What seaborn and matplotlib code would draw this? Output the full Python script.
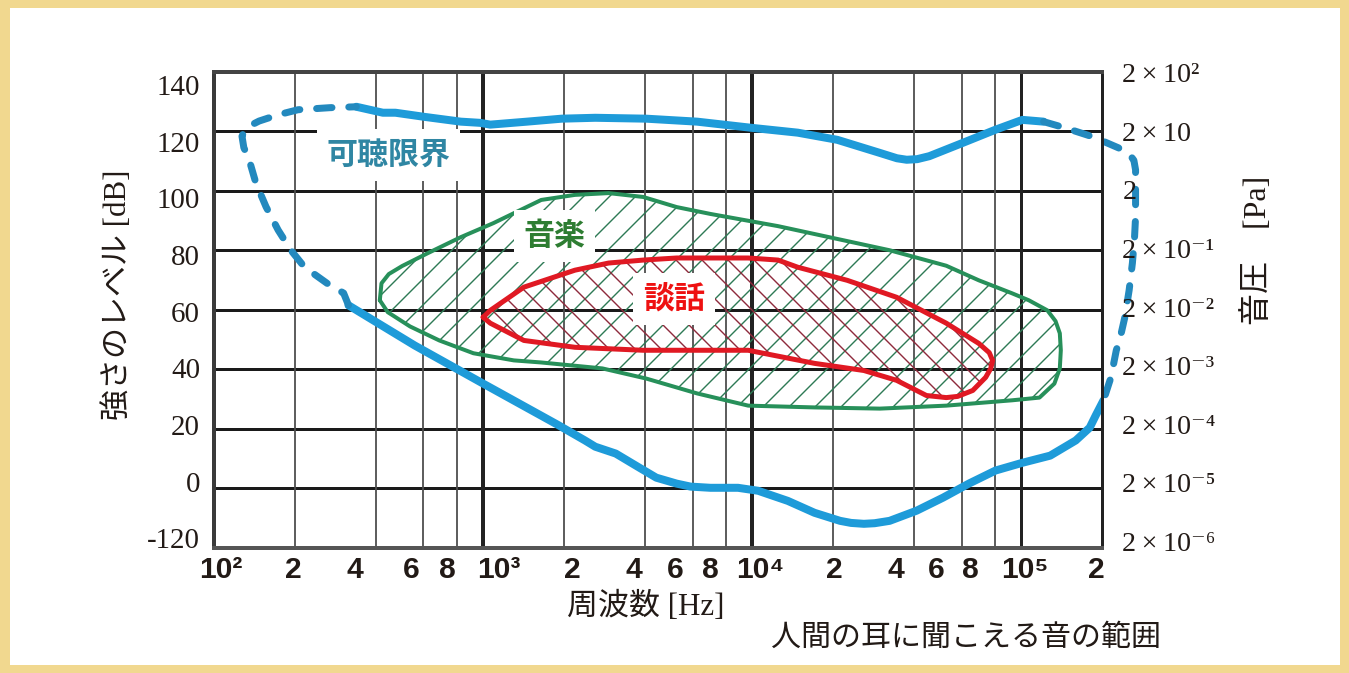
import matplotlib
matplotlib.use('Agg')
import numpy as np
import pandas as pd
import matplotlib.pyplot as plt
import seaborn as sns

# output is 1349x673; dpi 78 keeps matplotlib's hatch spacing close to the original (~13px)
DPI = 78
W, H = 1349, 673


def pt(px):
    # pixel size -> points at this dpi
    return px * 72 / DPI


# ---- tick labels -------------------------------------------------------
x_tick_labels = ['10²', '2', '4', '6', '8', '10³', '2', '4', '6', '8',
                 '10⁴', '2', '4', '6', '8', '10⁵', '2']
x_tick_pos = [106, 197, 334, 540, 735, 1147, 2142, 3642, 5176, 6980,
              10710, 20180, 34300, 48300, 64600, 102600, 190100]
y_left_labels = ['140', '120', '100', '80', '60', '40', '20', '0', '-120']
y_right_labels = ['2\u2009×\u200910²', '2\u2009×\u200910', '2', '2\u2009×\u200910⁻¹',
                  '2\u2009×\u200910⁻²', '2\u2009×\u200910⁻³', '2\u2009×\u200910⁻⁴',
                  '2\u2009×\u200910⁻⁵', '2\u2009×\u200910⁻⁶']
db_grid = [0, 20, 40, 60, 80, 100, 120]
decades = [1e3, 1e4, 1e5]

# ---- hearing limit (可聴限界) --------------------------------------------
limit_dash_left_f = [316, 303, 263, 217, 193, 173, 156, 143, 135, 129, 127, 130, 137, 147, 173, 205, 270, 338]
limit_dash_left_db = [61.5, 65.6, 68.9, 74.3, 80.0, 86.8, 94.6, 102.6, 110.4, 114.5, 118.3,
                      120.4, 122.0, 123.4, 125.5, 127.2, 127.9, 128.2]
limit_top_f = [338, 424, 472, 606, 826, 975, 1063, 1455, 1958, 2610, 4036, 6240, 10000,
               14760, 20700, 29800, 34500, 37500, 41000, 45500, 60700, 80200, 100900, 121000]
limit_top_db = [128.2, 126.2, 126.2, 124.8, 123.2, 122.8, 122.2, 123.2, 124.2, 124.5, 124.2,
                123.2, 121.1, 119.5, 117.1, 112.7, 110.9, 110.4, 110.6, 111.6, 116.1, 120.5,
                123.8, 123.2]
limit_dash_right_f = [121000, 145500, 184500, 229600, 252000, 262000, 265800, 265800, 265800,
                      263500, 258700, 251600, 242500, 231800, 225400, 215300, 202100]
limit_dash_right_db = [123.2, 121.1, 118.1, 114.4, 112.3, 110.2, 107.0, 100.3, 91.2, 84.4,
                       75.7, 66.6, 57.5, 49.7, 46.4, 37.3, 29.6]
limit_bottom_f = [202100, 189000, 179500, 159300, 128000, 100900, 80200, 63800, 51200, 40800,
                  32400, 28500, 26000, 23300, 21200, 17040, 13560, 10520, 8850, 6990, 5900,
                  5240, 4400, 3800, 3110, 2610, 2390, 1890, 1000, 557, 316]
limit_bottom_db = [29.6, 24.5, 20.4, 16.1, 11.0, 8.6, 6.0, 1.6, -3.1, -7.5, -10.9, -11.7,
                   -11.9, -11.6, -10.9, -8.2, -4.2, -0.8, 0.2, 0.2, 0.6, 1.6, 3.6, 7.0,
                   11.7, 14.0, 16.1, 21.4, 35.2, 48.0, 61.5]

# ---- music (音楽) ---------------------------------------------------------
music_f = [413, 419, 446, 500, 622, 826, 1091, 1644, 2193, 2924, 3933, 5240, 6990, 12470,
           32400, 52600, 69500, 92000, 106600, 125000, 134000, 139000, 140200, 139000, 132700,
           116800, 92600, 52600, 29800, 17040, 9660, 6240, 4036, 2775, 1644, 1300, 920, 687,
           535, 442, 413]
music_db = [63.2, 68.9, 72.0, 74.7, 79.0, 84.4, 89.1, 96.9, 98.6, 99.2, 97.9, 94.5, 92.2,
            88.1, 80.0, 74.8, 69.9, 65.6, 63.2, 59.8, 56.2, 52.1, 46.4, 40.3, 35.2, 30.5,
            29.6, 27.8, 26.8, 27.2, 27.8, 31.9, 36.9, 40.3, 42.3, 43.0, 45.4, 49.7, 54.4,
            59.2, 63.2]

# ---- speech (談話) --------------------------------------------------------
talk_f = [1000, 1063, 1417, 2193, 2924, 3933, 5240, 6990, 9660, 12470, 14760, 22540, 34400,
          52600, 69500, 76000, 78200, 77000, 73700, 66000, 58000, 52600, 44400, 34400, 26000,
          17040, 9660, 6990, 3933, 2193, 1417, 1063, 1000]
talk_db = [57.5, 59.8, 67.6, 73.3, 75.7, 76.7, 77.4, 77.4, 77.4, 76.7, 74.3, 69.9, 64.2,
           55.5, 48.7, 45.6, 43.0, 40.3, 37.3, 32.9, 30.9, 30.5, 31.2, 36.3, 39.6, 42.0,
           46.4, 46.4, 46.4, 47.4, 49.7, 55.5, 57.5]

BLUE = '#1e9bd9'
BLUE_DASH = '#2389be'
GREEN = '#27905a'
RED = '#e01923'
INK = '#221a16'
CJK = ['Noto Sans CJK JP', 'DejaVu Sans']
SERIF = ['Liberation Serif', 'Noto Sans CJK JP', 'DejaVu Serif']
SANS = ['Liberation Sans', 'DejaVu Sans']

sns.set_theme(style='white')
plt.rcParams['font.family'] = CJK
plt.rcParams['hatch.linewidth'] = pt(1.4)

fig = plt.figure(figsize=((W + 0.4) / DPI, (H + 0.4) / DPI), dpi=DPI)
fig.patch.set_facecolor('#f1d88f')
fig.add_artist(plt.Rectangle((10 / W, 8 / H), 1330 / W, 657 / H, transform=fig.transFigure,
                             facecolor='white', edgecolor='none', zorder=-5))

ax = fig.add_axes([214 / W, 1 - 548 / H, 888 / W, 476 / H])
ax.set_xscale('log')
ax.set_xlim(100, 2e5)
ax.set_ylim(-20, 140)
ax.set_facecolor('white')
ax.xaxis.set_minor_locator(matplotlib.ticker.NullLocator())

# grid
for y in db_grid:
    ax.axhline(y, color='#1a1a1a', lw=pt(3), zorder=1)
for d in (100, 1000, 10000):
    for m in (2, 4, 6, 8):
        ax.axvline(m * d, color='#4d4d4d', lw=pt(1.8), zorder=1)
for x in decades:
    ax.axvline(x, color='#222222', lw=pt(4 if x < 1e5 else 3), zorder=1)

# hatched regions
ax.fill(music_f, music_db, facecolor='none', edgecolor='#2e7a55', hatch='/', lw=0, zorder=2)
ax.fill(talk_f, talk_db, facecolor='none', edgecolor='#8e2a3c', hatch='\\', lw=0, zorder=2)

sns.lineplot(x=music_f, y=music_db, sort=False, estimator=None, ax=ax, color=GREEN,
             lw=pt(4), zorder=3, solid_joinstyle='round')
sns.lineplot(x=talk_f, y=talk_db, sort=False, estimator=None, ax=ax, color=RED,
             lw=pt(5), zorder=3, solid_joinstyle='round')

# hearing limit loop
sns.lineplot(x=limit_top_f, y=limit_top_db, sort=False, estimator=None, ax=ax, color=BLUE,
             lw=pt(8), zorder=4, solid_capstyle='round', solid_joinstyle='round')
sns.lineplot(x=limit_bottom_f, y=limit_bottom_db, sort=False, estimator=None, ax=ax, color=BLUE,
             lw=pt(8), zorder=4, solid_capstyle='round', solid_joinstyle='round')
for fx, fy in [(limit_dash_left_f, limit_dash_left_db), (limit_dash_right_f, limit_dash_right_db)]:
    sns.lineplot(x=fx, y=fy, sort=False, estimator=None, ax=ax, color=BLUE_DASH, lw=pt(7),
                 linestyle=(0, (2.2, 2.4)), dash_capstyle='round', zorder=4, clip_on=False)

# region labels
box = dict(boxstyle='square,pad=0.32', facecolor='white', edgecolor='none')
ax.text(445, 112.0, '可聴限界', ha='center', va='center', color='#2f86a3', fontsize=pt(31),
        fontweight='bold', family=CJK, bbox=box, zorder=6)
ax.text(1841, 84.8, '音楽', ha='center', va='center', color='#2e7d32', fontsize=pt(31),
        fontweight='bold', family=CJK, bbox=box, zorder=6)
ax.text(5105, 63.5, '談話', ha='center', va='center', color='#ee1111', fontsize=pt(31),
        fontweight='bold', family=CJK, bbox=box, zorder=6)

# ticks
ax.set_xticks(x_tick_pos, x_tick_labels, family=SANS, fontweight='bold', fontsize=pt(30),
              color=INK)
ax.set_yticks(np.linspace(135.6, -16.6, len(y_left_labels)), y_left_labels, family=SERIF,
              fontsize=pt(29), color=INK)
ax.tick_params(axis='x', length=0, pad=pt(8))
ax.tick_params(axis='y', length=0, pad=pt(14))

ax2 = ax.twinx()
ax2.set_ylim(-20, 140)
ax2.set_yticks(np.linspace(139.7, -17.6, len(y_right_labels)), y_right_labels, family=SERIF,
               fontsize=pt(28), color=INK)
ax2.tick_params(axis='y', length=0, pad=pt(20))
for s in ax2.spines.values():
    s.set_visible(False)

for name, w, c in [('left', 4, '#3a3a3a'), ('top', 4, '#444444'), ('bottom', 4, '#555555'),
                   ('right', 3, '#222222')]:
    ax.spines[name].set_visible(True)
    ax.spines[name].set_linewidth(pt(w))
    ax.spines[name].set_color(c)
    ax.spines[name].set_zorder(5)

# axis titles and caption
fig.text(118 / W, 1 - 295 / H, '強さのレベル [dB]', rotation=90, ha='center', va='center',
         fontsize=pt(31), family=SERIF, color=INK)
fig.text(1257 / W, 1 - 250 / H, '音圧\u3000[Pa]', rotation=90, ha='center', va='center',
         fontsize=pt(32), family=SERIF, color=INK)
fig.text(645 / W, 1 - 607 / H, '周波数 [Hz]', ha='center', va='center',
         fontsize=pt(31), family=SERIF, color=INK)
fig.text(966 / W, 1 - 637 / H, '人間の耳に聞こえる音の範囲', ha='center', va='center',
         fontsize=pt(30), family=CJK, color=INK)

fig.savefig('out.png', dpi=DPI)
